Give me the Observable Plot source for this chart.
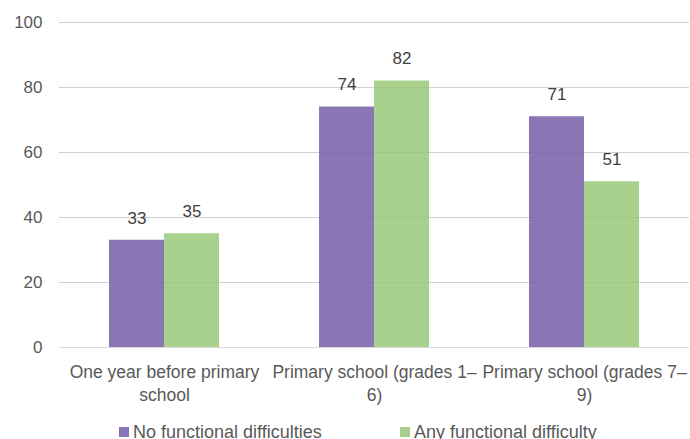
<!DOCTYPE html>
<html>
<head>
<meta charset="utf-8">
<script src="https://cdn.jsdelivr.net/npm/d3@7"></script>
<script src="https://cdn.jsdelivr.net/npm/@observablehq/plot@0.6"></script>
<style>
  body { margin: 0; background: #fff; font-family: "Liberation Sans", Arial, sans-serif; }
  #legend { position: relative; height: 22px; margin-top: 6px; font-size: 18px; line-height: 22px; color: #595959; }
  .item { position: absolute; display: flex; align-items: center; white-space: nowrap; }
  .sw { width: 10px; height: 10px; margin-right: 4px; }
</style>
</head>
<body>
<div id="chart"></div>
<div id="legend"></div>
<script>
// School levels and the two groups compared at each level
const levels = [
  "One year before primary\nschool",
  "Primary school (grades 1–\n6)",
  "Primary school (grades 7–\n9)"
];
const groups = ["No functional difficulties", "Any functional difficulty"];
const noDifficulty = [33, 74, 71];
const anyDifficulty = [35, 82, 51];
const yTicks = [0, 20, 40, 60, 80, 100];
const colors = ["#8a76b4", "#a9d18e"];

const rows = levels.flatMap((level, i) => [
  {level, group: groups[0], value: noDifficulty[i]},
  {level, group: groups[1], value: anyDifficulty[i]}
]);

const chart = Plot.plot({
  width: 690,
  height: 415,
  marginTop: 22,
  marginBottom: 68,
  marginLeft: 58,
  marginRight: 0,
  style: {fontFamily: "'Liberation Sans', Arial, sans-serif", fontSize: "16px", color: "#595959"},
  fx: {domain: levels, padding: 0, label: null},
  x: {domain: groups, paddingInner: 0, paddingOuter: 0.88, axis: null},
  y: {domain: [0, 100], ticks: yTicks, label: null},
  color: {domain: groups, range: colors},
  marks: [
    Plot.ruleY(yTicks, {stroke: "#d9d9d9", strokeWidth: 1.2}),
    Plot.barY(rows, {fx: "level", x: "group", y: "value", fill: "group"}),
    Plot.ruleY(yTicks.slice(1), {stroke: "#000", strokeOpacity: 0.04}),
    Plot.text(rows, {fx: "level", x: "group", y: "value", text: d => String(d.value),
      dy: -22, fill: "#404040", fontSize: 17}),
    Plot.axisY({ticks: yTicks, tickSize: 0, tickPadding: 17, fill: "#595959", fontSize: 17}),
    Plot.axisFx({anchor: "bottom", tickSize: 0, tickPadding: 14, fill: "#595959", fontSize: 17.5, lineHeight: 1.33})
  ]
});
document.getElementById("chart").appendChild(chart);

// Legend beneath the chart
const legend = document.getElementById("legend");
const lefts = [119, 400];
groups.forEach((g, i) => {
  const item = document.createElement("div");
  item.className = "item";
  item.style.left = lefts[i] + "px";
  item.innerHTML = `<span class="sw" style="background:${colors[i]}"></span><span>${g}</span>`;
  legend.appendChild(item);
});
</script>
</body>
</html>
